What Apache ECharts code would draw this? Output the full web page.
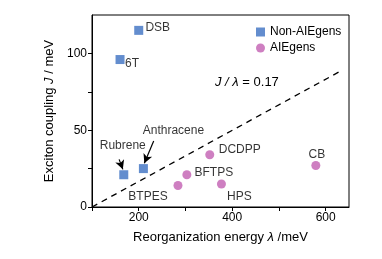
<!DOCTYPE html>
<html>
<head>
<meta charset="utf-8">
<script src="https://cdn.jsdelivr.net/npm/echarts@6/dist/echarts.min.js"></script>
<style>
  html, body { margin: 0; padding: 0; background: #fff; }
  #chart { width: 382px; height: 259px; }
</style>
</head>
<body>
<div id="chart"></div>
<script>
// values
var nonAieNames = ['DSB', '6T', 'Rubrene', 'Anthracene']
var nonAieX = [200, 160, 168, 210]
var nonAieY = [115, 96, 21, 25]

var aieNames = ['DCDPP', 'BFTPS', 'BTPES', 'HPS', 'CB']
var aieX = [352, 303, 284, 377, 579]
var aieY = [34, 21, 14, 15, 27]

// dashed J/lambda guide line, endpoints in data units
var ratioLine = [[100, 0], [635, 89]]

// label arrows (from text to point), data units
var arrows = [
  [[158, 31], [166, 24.5]],
  [[232, 43], [212, 28.5]]
]

var xTicks = [200, 400, 600]
var yTicks = [0, 50, 100]

// label offsets (text centre minus point) in px, a styling matter
var nonAieOffsets = [[19, -3], [12, 4], [-1, -29], [30, -38]]
var aieOffsets = [[30, -5], [27, -2], [-30, 11], [18, 13], [1, -11]]

var FONT = '"Liberation Sans", Arial, sans-serif'
var BLUE = '#3c70c2'
var PINK = '#c25fb2'

function buildData (names, xs, ys, offs) {
  return names.map(function (n, i) {
    return {
      name: n,
      value: [xs[i], ys[i]],
      label: { offset: offs[i] }
    }
  })
}

var chart = echarts.init(document.getElementById('chart'))

var labelStyle = {
  show: true,
  position: 'inside',
  formatter: '{b}',
  color: '#000',
  fontFamily: FONT,
  fontSize: 12,
  align: 'center',
  verticalAlign: 'middle'
}

chart.setOption({
  animation: false,
  textStyle: { fontFamily: FONT },
  grid: {
    left: 92, right: 33, top: 15, bottom: 52,
    show: true, borderColor: '#000', borderWidth: 1
  },
  legend: {
    left: 251, top: 21,
    orient: 'vertical',
    itemWidth: 9, itemHeight: 9, itemGap: 4,
    textStyle: { fontFamily: FONT, fontSize: 12, color: '#000' },
    data: [
      { name: 'Non-AIEgens', icon: 'rect' },
      { name: 'AIEgens', icon: 'circle' }
    ]
  },
  xAxis: {
    type: 'value', min: 100, max: 650, interval: 100,
    name: '{n|Reorganization energy }{i|λ}{n| /meV}',
    nameLocation: 'middle', nameGap: 24,
    nameTextStyle: {
      rich: {
        n: { fontFamily: FONT, fontSize: 13, color: '#000' },
        i: { fontFamily: FONT, fontSize: 13, color: '#000', fontStyle: 'italic' }
      }
    },
    axisLine: { lineStyle: { color: '#000', width: 1 } },
    axisTick: { lineStyle: { color: '#000' }, length: 4 },
    axisLabel: {
      color: '#000', fontSize: 12, fontFamily: FONT, margin: 5,
      showMaxLabel: false,
      formatter: function (v) { return xTicks.indexOf(v) >= 0 ? String(v) : '' }
    },
    splitLine: { show: false }
  },
  yAxis: {
    type: 'value', min: 0, max: 125, interval: 25,
    name: '{n|Exciton coupling }{i|J}{n| / meV}',
    nameLocation: 'middle', nameGap: 31, nameRotate: 90,
    nameTextStyle: {
      rich: {
        n: { fontFamily: FONT, fontSize: 13, color: '#000' },
        i: { fontFamily: FONT, fontSize: 13, color: '#000', fontStyle: 'italic' }
      }
    },
    axisLine: { show: true, lineStyle: { color: '#000', width: 1 } },
    axisTick: { show: true, lineStyle: { color: '#000' }, length: 4 },
    axisLabel: {
      color: '#000', fontSize: 12, fontFamily: FONT, margin: 5,
      showMaxLabel: false,
      formatter: function (v) { return yTicks.indexOf(v) >= 0 ? String(v) : '' }
    },
    splitLine: { show: false }
  },
  graphic: [{
    type: 'text',
    left: 215, top: 76,
    style: {
      text: '{i|J / λ} = 0.17',
      font: '13px ' + FONT,
      fill: '#000',
      rich: { i: { fontStyle: 'italic', fontSize: 13, fontFamily: FONT } }
    }
  }],
  series: [
    {
      name: 'ratio',
      type: 'line',
      data: ratioLine,
      symbol: 'none',
      silent: true,
      lineStyle: { color: '#000', width: 1.3, type: [6, 5] },
      z: 1
    },
    {
      name: 'Non-AIEgens',
      type: 'scatter',
      symbol: 'rect',
      symbolSize: 9,
      itemStyle: { color: BLUE },
      label: labelStyle,
      data: buildData(nonAieNames, nonAieX, nonAieY, nonAieOffsets),
      markLine: {
        silent: true,
        symbol: ['none', 'arrow'],
        symbolSize: [7, 9],
        label: { show: false },
        lineStyle: { color: '#000', width: 1.2, type: 'solid' },
        data: arrows.map(function (a) {
          return [{ coord: a[0] }, { coord: a[1] }]
        })
      },
      z: 3
    },
    {
      name: 'AIEgens',
      type: 'scatter',
      symbol: 'circle',
      symbolSize: 9,
      itemStyle: { color: PINK },
      label: labelStyle,
      data: buildData(aieNames, aieX, aieY, aieOffsets),
      z: 3
    }
  ]
})
</script>
</body>
</html>
